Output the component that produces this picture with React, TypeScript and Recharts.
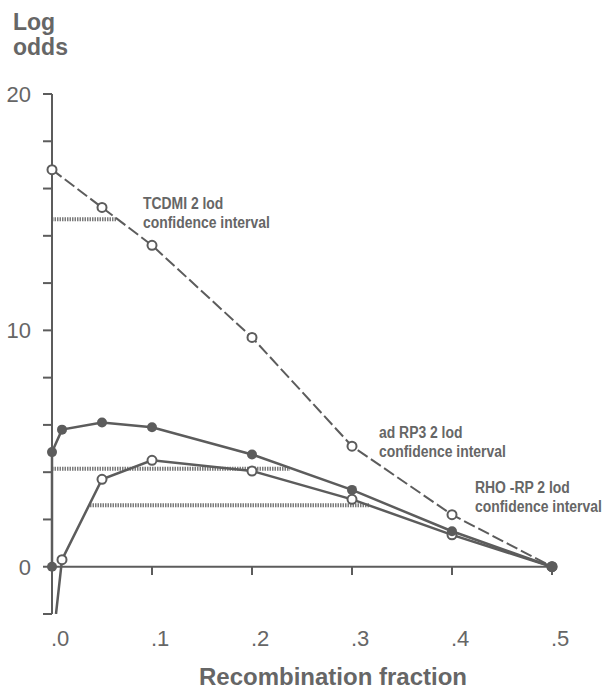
import React from "react";
import { Line, LineChart, ReferenceLine, XAxis, YAxis } from "recharts";

// recombination fraction vs lod score
const tcdmiTheta = [0, 0.05, 0.1, 0.2, 0.3, 0.4, 0.5];
const tcdmiLod = [16.8, 15.2, 13.6, 9.7, 5.1, 2.2, 0];

const adRp3Theta = [0, 0, 0.01, 0.05, 0.1, 0.2, 0.3, 0.4, 0.5];
const adRp3Lod = [0, 4.85, 5.8, 6.1, 5.9, 4.75, 3.25, 1.5, 0];

const rhoTheta = [0.004, 0.01, 0.05, 0.1, 0.2, 0.3, 0.4, 0.5];
const rhoLod = [-2, 0.3, 3.7, 4.5, 4.05, 2.85, 1.35, 0];

// 2 lod confidence intervals
const ciLevel = [14.7, 4.15, 2.6];
const ciFrom = [0, 0, 0.038];
const ciTo = [0.064, 0.238, 0.318];

const xTicks = [0, 0.1, 0.2, 0.3, 0.4, 0.5];
const xTickLabels = [".0", ".1", ".2", ".3", ".4", ".5"];
const yTicks = [-2, 0, 2, 4, 6, 8, 10, 12, 14, 16, 18, 20];
const yLabelled = [0, 10, 20];

const INK = "#5c5c5c";
const TEXT = "#666666";
const SANS = "'Liberation Sans', Arial, Helvetica, sans-serif";

const toPoints = (xs: number[], ys: number[]) => xs.map((x, i) => ({ x, y: ys[i] }));

const tcdmi = toPoints(tcdmiTheta, tcdmiLod);
const adRp3 = toPoints(adRp3Theta, adRp3Lod);
const rho = toPoints(rhoTheta, rhoLod);

const OpenDot = (props: any) => {
  const { cx, cy, index, skip } = props;
  if (skip !== undefined && index === skip) return <g key={`s${index}`} />;
  return <circle key={`o${index}`} cx={cx} cy={cy} r={4.5} fill="#fff" stroke={INK} strokeWidth={2} />;
};

const FilledDot = (props: any) => {
  const { cx, cy, index } = props;
  return <circle key={`f${index}`} cx={cx} cy={cy} r={5} fill={INK} stroke="none" />;
};

const XTick = (props: any) => {
  const { x, y, payload, index } = props;
  const label = xTickLabels[xTicks.indexOf(payload.value)] ?? xTickLabels[index];
  return (
    <text x={x - 1} y={y} dy="0.71em" textAnchor="start" fill={TEXT} fontSize={22} fontFamily={SANS}>
      {label}
    </text>
  );
};

// condensed-looking bold note: regular bold squeezed horizontally
const Note = ({ x, y, lines }: { x: number; y: number; lines: string[] }) => (
  <g transform={`translate(${x},${y}) scale(0.87,1)`}>
    {lines.map((l, i) => (
      <text key={i} x={0} y={i * 19} fill={TEXT} fontSize={16} fontWeight="bold" fontFamily={SANS}>
        {l}
      </text>
    ))}
  </g>
);

export default function App() {
  return (
    <div style={{ position: "absolute", left: 0, top: 0, width: 605, height: 692, background: "#fff" }}>
      <LineChart width={605} height={692} data={tcdmi} margin={{ top: 94, right: 53, left: 0, bottom: 48 }}>
        <XAxis
          type="number"
          dataKey="x"
          domain={[0, 0.5]}
          ticks={xTicks}
          axisLine={false}
          tickLine={false}
          tickSize={0}
          tickMargin={16}
          height={30}
          tick={<XTick />}
        />
        <YAxis
          type="number"
          dataKey="y"
          domain={[-2, 20]}
          ticks={yTicks}
          width={52}
          interval={0}
          allowDataOverflow
          axisLine={{ stroke: INK, strokeWidth: 2 }}
          tickLine={{ stroke: INK, strokeWidth: 2 }}
          tickSize={9}
          tickMargin={12}
          tick={{ fill: TEXT, fontSize: 22, fontFamily: SANS }}
          tickFormatter={(v: number) => (yLabelled.includes(v) ? String(v) : "")}
        />
        <ReferenceLine y={0} stroke={INK} strokeWidth={2} />
        {xTicks.slice(1).map((t) => (
          <ReferenceLine
            key={t}
            segment={[
              { x: t, y: 0 },
              { x: t, y: -0.35 },
            ]}
            stroke={INK}
            strokeWidth={2}
          />
        ))}
        {ciLevel.map((lvl, i) => (
          <ReferenceLine
            key={`ci${i}`}
            segment={[
              { x: ciFrom[i], y: lvl },
              { x: ciTo[i], y: lvl },
            ]}
            stroke="#7a7a7a"
            strokeWidth={4}
            strokeDasharray="1.5 1"
          />
        ))}
        <Line
          data={tcdmi}
          dataKey="y"
          stroke={INK}
          strokeWidth={2}
          strokeDasharray="12 4"
          dot={<OpenDot />}
          isAnimationActive={false}
        />
        <Line
          data={rho}
          dataKey="y"
          stroke={INK}
          strokeWidth={2.5}
          dot={<OpenDot skip={0} />}
          isAnimationActive={false}
        />
        <Line
          data={adRp3}
          dataKey="y"
          stroke={INK}
          strokeWidth={2.5}
          dot={<FilledDot />}
          isAnimationActive={false}
        />
      </LineChart>
      <svg width={605} height={692} style={{ position: "absolute", left: 0, top: 0, pointerEvents: "none" }}>
        <text x={13} y={30} fill={TEXT} fontSize={23} fontWeight="bold" fontFamily={SANS}>
          Log
        </text>
        <text x={13} y={55} fill={TEXT} fontSize={23} fontWeight="bold" fontFamily={SANS}>
          odds
        </text>
        <text x={333} y={685} textAnchor="middle" fill={TEXT} fontSize={24} fontWeight="bold" fontFamily={SANS}>
          Recombination fraction
        </text>
        <Note x={143} y={209} lines={["TCDMI 2 lod", "confidence interval"]} />
        <Note x={379} y={438} lines={["ad RP3 2 lod", "confidence interval"]} />
        <Note x={475} y={493} lines={["RHO -RP 2 lod", "confidence interval"]} />
      </svg>
    </div>
  );
}
